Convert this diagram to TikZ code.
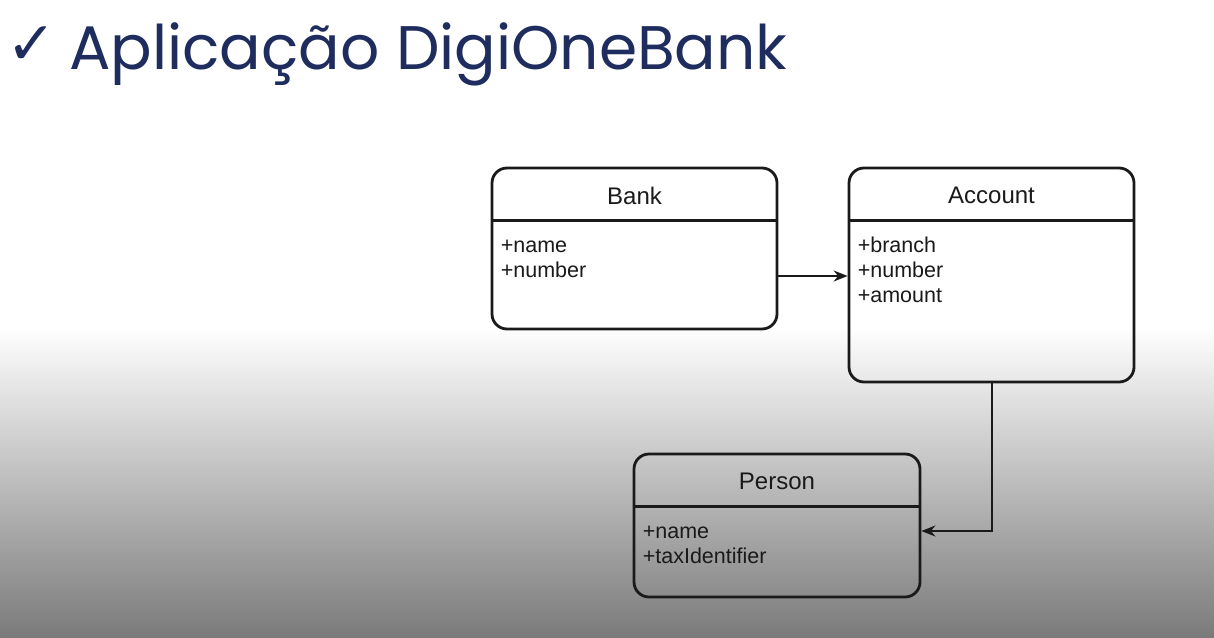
\documentclass[tikz,border=0pt]{standalone}
\usepackage{fontspec}
\setmainfont{Liberation Sans}
\newfontfamily\titlefont{Poppins}
\newfontfamily\symfont{DejaVu Sans}
\usetikzlibrary{arrows.meta,calc}
\definecolor{navy}{HTML}{1E2D5E}
\definecolor{ink}{HTML}{1A1A1A}
\begin{document}
\begin{tikzpicture}[x=1pt,y=-1pt,
  classbox/.style={draw=ink,line width=2.8pt,rounded corners=15pt,rectangle,inner sep=0pt},
  classname/.style={font=\fontsize{24}{28}\selectfont,text=ink},
  attrs/.style={font=\fontsize{21.5}{25}\selectfont,text=ink,align=left,anchor=north west,inner sep=0pt},
  conn/.style={draw=ink,line width=2pt,-{Stealth[length=14pt,width=11pt]}}]
\useasboundingbox (0,0) rectangle (1214,637);
\fill[white] (0,0) rectangle (1214,330);
\shade[top color=white,bottom color=black!52] (0,327) rectangle (1214,637);
% title
\node[anchor=base west,text=navy,inner sep=0pt] (check) at (6,64) {\symfont\fontsize{60}{64}\selectfont ✓};
\node[anchor=base west,text=navy,inner sep=0pt] (title) at (69,69) {\titlefont\fontsize{61.5}{66}\selectfont Aplicação DigiOneBank};
% boxes
\node[classbox,minimum width=285pt,minimum height=161pt] (bank) at (634.5,248.5) {};
\node[classbox,minimum width=285pt,minimum height=214pt] (account) at (991.5,275) {};
\node[classbox,minimum width=286pt,minimum height=143pt] (person) at (777,525.5) {};
% header separators
\draw[ink,line width=2.8pt] ([yshift=-54pt]bank.north west) -- ([yshift=-54pt]bank.north east);
\draw[ink,line width=2.8pt] ([yshift=-54pt]account.north west) -- ([yshift=-54pt]account.north east);
\draw[ink,line width=2.8pt] ([yshift=-54pt]person.north west) -- ([yshift=-54pt]person.north east);
% names
\node[classname] (bankname) at ([yshift=-29pt]bank.north) {Bank};
\node[classname] (accountname) at ([yshift=-29pt]account.north) {Account};
\node[classname] (personname) at ([yshift=-29pt]person.north) {Person};
% attributes
\node[attrs] (bankattr) at ([xshift=10pt,yshift=-68pt]bank.north west) {\strut+name\\+number};
\node[attrs] (accountattr) at ([xshift=10pt,yshift=-68pt]account.north west) {\strut+branch\\+number\\+amount};
\node[attrs] (personattr) at ([xshift=10pt,yshift=-68pt]person.north west) {\strut+name\\+taxIdentifier};
% connectors
\coordinate (bankout) at ([yshift=-27.5pt]bank.east);
\draw[conn] (bankout) -- (bankout -| account.west);
\coordinate (personin) at ([yshift=-5.5pt]person.east);
\draw[conn] (account.south) |- (personin);
\end{tikzpicture}
\end{document}
